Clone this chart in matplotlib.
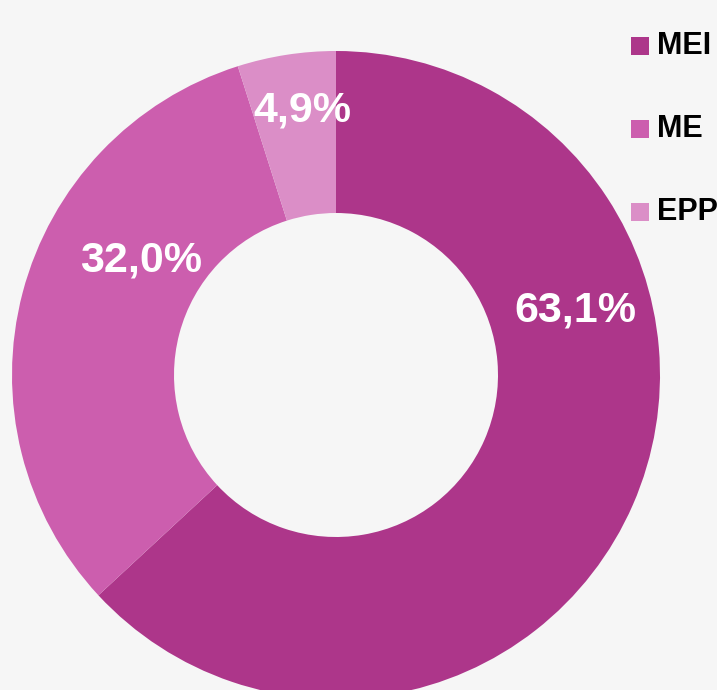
import matplotlib.pyplot as plt
from matplotlib.patches import Rectangle

categories = ["MEI", "ME", "EPP"]
shares = [63.1, 32.0, 4.9]
pct_labels = ["63,1%", "32,0%", "4,9%"]
colors = ["#ad368a", "#cc5eae", "#db8ec7"]

plt.rcParams['font.family'] = ['Liberation Sans', 'DejaVu Sans']

W, H = 717, 690
fig = plt.figure(figsize=(W / 100, H / 100), dpi=100)
fig.patch.set_facecolor("#f6f6f6")
ax = fig.add_axes([0, 0, 1, 1])
ax.set_facecolor("#f6f6f6")

cx, cy, r = 336, H - 375, 324
wedges, _ = ax.pie(shares, colors=colors, startangle=90, counterclock=False,
                   center=(cx, cy), radius=r, frame=True,
                   wedgeprops=dict(width=r * 0.5, linewidth=0))
ax.set_xlim(0, W)
ax.set_ylim(0, H)
ax.set_aspect("equal")
ax.axis("off")

# label positions (pixels from top-left)
label_pos = [(575, 310), (141, 260), (302, 110)]
for txt, (x, y) in zip(pct_labels, label_pos):
    ax.text(x, H - y, txt, color="white", fontsize=31, fontweight="bold",
            ha="center", va="center")

# legend
legend_y = [46, 129, 212]
for name, col, y in zip(categories, colors, legend_y):
    ax.add_patch(Rectangle((631, H - y - 9), 18, 18, facecolor=col,
                           edgecolor="none", clip_on=False))
    ax.text(657, H - y, name, fontsize=22, fontweight="bold", color="black",
            ha="left", va="center")

fig.savefig("out.png", dpi=100, facecolor=fig.get_facecolor())
